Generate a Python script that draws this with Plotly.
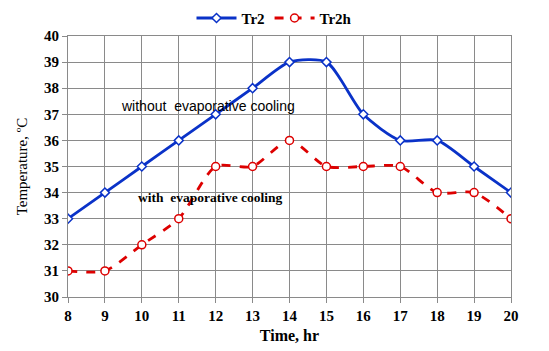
import plotly.graph_objects as go

hours = [8, 9, 10, 11, 12, 13, 14, 15, 16, 17, 18, 19, 20]
tr2 = [33, 34, 35, 36, 37, 38, 39, 39, 37, 36, 36, 35, 34]
tr2h = [31, 31, 32, 33, 35, 35, 36, 35, 35, 35, 34, 34, 33]

fig = go.Figure()
fig.add_trace(go.Scatter(
    x=hours, y=tr2, name="Tr2", mode="lines+markers",
    line=dict(color="#0a32c8", width=2.8, shape="spline", smoothing=0.7),
    marker=dict(symbol="diamond", size=7, color="white",
                line=dict(color="#0a32c8", width=1.5)),
))
fig.add_trace(go.Scatter(
    x=hours, y=tr2h, name="Tr2h", mode="lines+markers",
    line=dict(color="#dd0000", width=2.8, dash="dash", shape="spline", smoothing=0.7),
    marker=dict(symbol="circle", size=8, color="white",
                line=dict(color="#dd0000", width=1.5)),
))

fig.add_annotation(x=11.8, y=37.3, text="without  evaporative cooling", showarrow=False,
                   font=dict(family="Liberation Sans", size=14, color="black"))
fig.add_annotation(x=11.87, y=33.8, text="<b>with  evaporative cooling</b>", showarrow=False,
                   font=dict(family="Liberation Serif", size=13.5, color="black"))

axis_common = dict(
    showgrid=True, gridcolor="#8a8a8a", gridwidth=1,
    showline=True, linecolor="#8a8a8a", linewidth=1, mirror=True,
    ticks="outside", ticklen=5, tickcolor="#8a8a8a",
    tickfont=dict(family="Liberation Serif", size=15, color="black", weight="bold"),
    zeroline=False,
)
fig.update_xaxes(range=[8, 20], dtick=1, tick0=8,
                 title=dict(text="<b>Time, hr</b>", standoff=6,
                            font=dict(family="Liberation Serif", size=16, color="black")),
                 **axis_common)
fig.update_yaxes(range=[30, 40], dtick=1, tick0=30,
                 title=dict(text="Temperature, ºC", standoff=12,
                            font=dict(family="Liberation Serif", size=15, color="black")),
                 **axis_common)

fig.update_layout(
    width=549, height=351,
    margin=dict(l=68, r=38, t=36, b=54, autoexpand=False),
    paper_bgcolor="white", plot_bgcolor="white",
    showlegend=True,
    legend=dict(orientation="h", x=0.5, xref="container", xanchor="center",
                y=0.995, yref="container", yanchor="top",
                font=dict(family="Liberation Serif", size=15, color="black", weight="bold"),
                itemwidth=40, tracegroupgap=0),
)

fig.write_html("out.html")
